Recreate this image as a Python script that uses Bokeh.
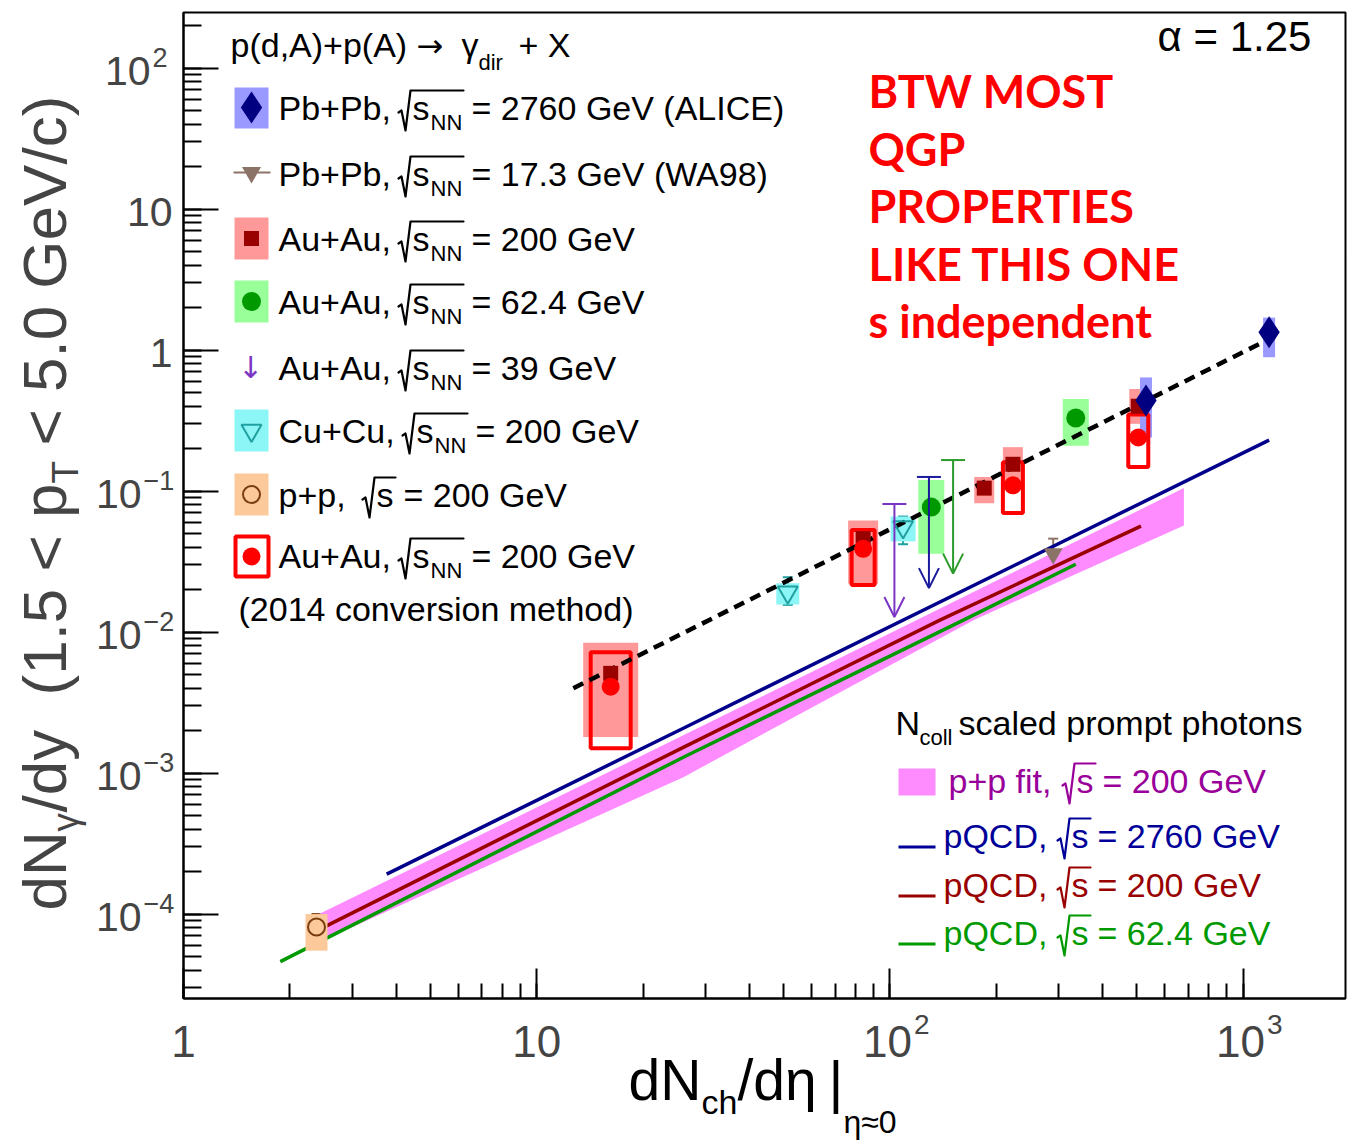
import math
from bokeh.plotting import figure
from bokeh.models import (Range1d, Label, BoxAnnotation, PolyAnnotation, Whisker, TeeHead,
                          Arrow, OpenHead, ColumnDataSource, LogTicker, CustomJSTickFormatter)
from bokeh.embed import file_html
from bokeh.resources import INLINE

# ------------------------------------------------------------------ data
# ALICE Pb+Pb, sqrt(sNN) = 2760 GeV
alice_x = [531, 1185]
alice_y = [0.44, 1.34]
alice_sys_lo = [0.24, 0.89]
alice_sys_hi = [0.64, 1.70]

# WA98 Pb+Pb, sqrt(sNN) = 17.3 GeV
wa98_x = [290]
wa98_y = [0.036]
wa98_err_lo = [0.028]
wa98_err_hi = [0.046]

# Au+Au, sqrt(sNN) = 200 GeV
auau200_x = [16.2, 84, 185, 223, 505]
auau200_y = [0.0051, 0.046, 0.105, 0.155, 0.40]
auau200_err_lo = [0.0040, 0.041, 0.097, 0.145, 0.37]
auau200_err_hi = [0.0069, 0.050, 0.113, 0.168, 0.43]
auau200_sys_lo = [0.0018, 0.022, 0.082, 0.115, 0.30]
auau200_sys_hi = [0.0084, 0.062, 0.126, 0.205, 0.53]

# Au+Au, sqrt(sNN) = 200 GeV, 2014 conversion method
conv_x = [16.2, 84, 223, 505]
conv_y = [0.0041, 0.039, 0.110, 0.24]
conv_err_lo = [0.0035, 0.034, 0.100, 0.22]
conv_err_hi = [0.0050, 0.044, 0.120, 0.26]
conv_sys_lo = [0.0015, 0.0216, 0.070, 0.148]
conv_sys_hi = [0.0072, 0.053, 0.160, 0.35]

# Au+Au, sqrt(sNN) = 62.4 GeV
auau62_x = [131, 336]
auau62_y = [0.077, 0.33]
auau62_err_lo = [0.0556, 0.219]
auau62_err_hi = [0.098, 0.435]
auau62_sys_lo = [0.036, 0.21]
auau62_sys_hi = [0.12, 0.45]

# Cu+Cu, sqrt(sNN) = 200 GeV
cucu_x = [51.4, 109]
cucu_y = [0.0192, 0.0556]
cucu_err_lo = [0.0156, 0.042]
cucu_err_hi = [0.0245, 0.066]
cucu_sys_lo = [0.0157, 0.044]
cucu_sys_hi = [0.0222, 0.066]

# p+p, sqrt(s) = 200 GeV
pp_x = [2.38]
pp_y = [8.1e-5]
pp_err_lo = [5.9e-5]
pp_err_hi = [1.0e-4]
pp_sys_lo = [5.5e-5]
pp_sys_hi = [1.0e-4]

# upper limits (arrow from limit down)
ul39_x = [103]
ul39_top = [0.081]
ul39_bottom = [0.0128]
ul_navy_x = [129]
ul_navy_top = [0.126]
ul_navy_bottom = [0.0205]
ul_green_x = [151]
ul_green_top = [0.166]
ul_green_bottom = [0.026]

# power-law fit, alpha = 1.25
fit_x = [12.7, 1280]
fit_y = [0.0040, 1.32]

# Ncoll-scaled p+p fit band
band_x = [2.38, 26.1, 173, 680]
band_hi = [9.8e-5, 1.86e-3, 0.0193, 0.105]
band_lo = [6.2e-5, 9.4e-4, 0.0122, 0.057]

# Ncoll-scaled pQCD
qcd2760_x = [3.76, 26.1, 1185]
qcd2760_y = [1.92e-4, 2.09e-3, 0.23]
qcd200_x = [2.38, 26.1, 139, 514]
qcd200_y = [7.6e-5, 1.53e-3, 0.0122, 0.0565]
qcd62_x = [1.88, 26.1, 162, 336]
qcd62_y = [4.6e-5, 1.3e-3, 0.0122, 0.0303]

# axis tick labels: (value, base, exponent)
x_tick_labels = [(1, "1", ""), (10, "10", ""), (100, "10", "2"), (1000, "10", "3")]
y_tick_labels = [(100, "10", "2"), (10, "10", ""), (1, "1", ""), (0.1, "10", "\u22121"),
                 (0.01, "10", "\u22122"), (0.001, "10", "\u22123"), (1e-4, "10", "\u22124")]

# plotted window
X0, X1 = 1.0, 1950.0
Y0, Y1 = 2.52e-5, 248.0

# ------------------------------------------------------------------ page geometry
W, H = 1349, 1144
FL, FR, FT, FB = 183, 1345, 12, 998      # plot box on the page
DX = (FR - FL) / math.log10(X1 / X0)     # pixels per decade
DY = (FB - FT) / math.log10(Y1 / Y0)
FONT = "Liberation Sans"
MID = 0.36                               # cap centre above the baseline, in em


def xd(px):
    return X0 * 10 ** ((px - FL) / DX)


def yd(py):
    return Y0 * 10 ** ((FB - py) / DY)


# the frame spans the whole page so that text outside the box is not clipped
p = figure(width=W, height=H, x_axis_type="log", y_axis_type="log",
           x_range=Range1d(xd(0), xd(W)), y_range=Range1d(yd(H), yd(0)),
           output_backend="svg", toolbar_location=None,
           min_border=0, min_border_left=0, min_border_right=0,
           min_border_top=0, min_border_bottom=0)
p.title.visible = False
p.xgrid.visible = False
p.ygrid.visible = False
p.background_fill_color = "white"
p.border_fill_color = "white"
p.outline_line_color = None

blank = CustomJSTickFormatter(code="return ''")
for ax, tin, tmin, loc, bnd in ((p.xaxis[0], 30, 15, Y0, (X0, X1)),
                                (p.yaxis[0], 35, 18, X0, (Y0, Y1))):
    ax.fixed_location = loc
    ax.bounds = bnd
    ax.ticker = LogTicker(num_minor_ticks=10)
    ax.formatter = blank
    ax.axis_line_width = 2
    ax.major_tick_in = tin
    ax.major_tick_out = 0
    ax.minor_tick_in = tmin
    ax.minor_tick_out = 0
    ax.major_tick_line_width = 2
    ax.minor_tick_line_width = 2

# box around the plotted window
p.add_layout(BoxAnnotation(left=X0, right=X1, bottom=Y0, top=Y1, fill_alpha=0,
                           line_color="black", line_width=2, line_alpha=1))


def sys_boxes(xs, lo, hi, width_px, **kw):
    src = ColumnDataSource(dict(x=xs, y=[(a + b) / 2 for a, b in zip(lo, hi)],
                                h=[b - a for a, b in zip(lo, hi)], w=width_px))
    p.rect("x", "y", width="w", height="h", width_units="screen", height_units="data",
           source=src, **kw)


def errbars(xs, lo, hi, color, head=10):
    src = ColumnDataSource(dict(x=xs, lo=lo, hi=hi))
    p.add_layout(Whisker(source=src, base="x", lower="lo", upper="hi", dimension="height",
                         line_color=color, line_width=2,
                         lower_head=TeeHead(size=head, line_color=color, line_width=2),
                         upper_head=TeeHead(size=head, line_color=color, line_width=2)))


def upper_limit(xs, top, bottom, color):
    src = ColumnDataSource(dict(x=xs, top=top, bottom=bottom))
    p.add_layout(Arrow(source=src, x_start="x", y_start="top", x_end="x", y_end="bottom",
                       line_color=color, line_width=2,
                       end=OpenHead(size=20, line_color=color, line_width=2)))
    p.scatter("x", "top", source=src, marker="dash", size=24, line_color=color, line_width=2)


# prompt-photon references
p.varea(x=band_x, y1=band_lo, y2=band_hi, fill_color="#ff8cff", fill_alpha=1)
p.line(qcd2760_x, qcd2760_y, line_color="#00008b", line_width=3.5)
p.line(qcd200_x, qcd200_y, line_color="#990000", line_width=3.5)
p.line(qcd62_x, qcd62_y, line_color="#009900", line_width=3.5)

# systematic uncertainty boxes
sys_boxes(pp_x, pp_sys_lo, pp_sys_hi, [22], fill_color="#fcc99a", line_alpha=0)
sys_boxes(cucu_x, cucu_sys_lo, cucu_sys_hi, [23, 25], fill_color="#8cf5f5", line_alpha=0)
sys_boxes(auau62_x, auau62_sys_lo, auau62_sys_hi, [26, 26], fill_color="#99ff99", line_alpha=0)
sys_boxes(auau200_x, auau200_sys_lo, auau200_sys_hi, [55, 30, 20, 20, 18],
          fill_color="#ff9999", line_alpha=0)
sys_boxes(alice_x, alice_sys_lo, alice_sys_hi, [12, 12], fill_color="#9999ff", line_alpha=0)
sys_boxes(conv_x, conv_sys_lo, conv_sys_hi, [40, 23, 20, 20], fill_alpha=0,
          line_color="#ff0000", line_width=4)

# upper limits
upper_limit(ul39_x, ul39_top, ul39_bottom, "#7b35c4")
upper_limit(ul_navy_x, ul_navy_top, ul_navy_bottom, "#1a1a9c")
upper_limit(ul_green_x, ul_green_top, ul_green_bottom, "#2a9a2a")

# statistical error bars
errbars(pp_x, pp_err_lo, pp_err_hi, "#7a3d0f")
errbars(cucu_x, cucu_err_lo, cucu_err_hi, "#20a0a0")
errbars(auau62_x, auau62_err_lo, auau62_err_hi, "#009900")
errbars(auau200_x, auau200_err_lo, auau200_err_hi, "#990000")
errbars(conv_x, conv_err_lo, conv_err_hi, "#cc0000")
errbars(wa98_x, wa98_err_lo, wa98_err_hi, "#8c7367")

# power-law fit
p.line(fit_x, fit_y, line_color="black", line_width=4.5, line_dash="11 7")

# data points
STY = dict(
    pp=dict(marker="circle", size=17, fill_alpha=0, line_color="#7a3d0f", line_width=2),
    cucu=dict(marker="inverted_triangle", size=20, fill_alpha=0, line_color="#20a0a0",
              line_width=2),
    auau62=dict(marker="circle", size=19, fill_color="#009900", line_alpha=0),
    auau200=dict(marker="square", size=15, fill_color="#990000", line_alpha=0),
    conv=dict(marker="circle", size=18, fill_color="#ff0000", line_alpha=0),
    wa98=dict(marker="inverted_triangle", size=19, fill_color="#8c7367", line_alpha=0),
    alice=dict(marker="diamond", size=32, fill_color="#000080", line_alpha=0),
)
p.scatter(pp_x, pp_y, **STY["pp"])
p.scatter(cucu_x, cucu_y, **STY["cucu"])
p.scatter(auau62_x, auau62_y, **STY["auau62"])
p.scatter(auau200_x, auau200_y, **STY["auau200"])
p.scatter(conv_x, conv_y, **STY["conv"])
p.scatter(wa98_x, wa98_y, **STY["wa98"])
p.scatter(alice_x, alice_y, **STY["alice"])


# ------------------------------------------------------------------ text helpers
def put(text, cx, base, size, color="black", font=FONT, style="normal", align="left"):
    """text whose baseline sits at page row `base`"""
    p.add_layout(Label(x=cx, y=H - (base - MID * size), x_units="screen", y_units="screen",
                       text=text, text_font=font, text_font_size=f"{size}px",
                       text_color=color, text_font_style=style, text_align=align,
                       text_baseline="middle"))


def put_up(text, base_x, y_start, size):
    """text reading bottom-to-top, baseline on page column `base_x`"""
    p.add_layout(Label(x=base_x - MID * size, y=H - y_start, x_units="screen",
                       y_units="screen", text=text, text_font=FONT,
                       text_font_size=f"{size}px", text_align="left",
                       text_baseline="middle", angle=math.pi / 2))


def stroke_px(points, color, width):
    """open polyline in page pixels (path traced forward and back)"""
    pts = list(points) + list(reversed(points[:-1]))
    p.add_layout(PolyAnnotation(xs=[a for a, _ in pts], ys=[H - b for _, b in pts],
                                xs_units="screen", ys_units="screen", fill_alpha=0,
                                line_color=color, line_alpha=1, line_width=width,
                                line_join="round"))


def key_box(x0, x1, y0, y1, **kw):
    p.quad(left=[xd(x0)], right=[xd(x1)], top=[yd(y0)], bottom=[yd(y1)], **kw)


def sqrt_s(x, base, size, color, nn=True):
    """radical with overline over 's' and an optional NN subscript"""
    sx = x + 14
    put("s", sx, base, size, color)
    end = sx + 18
    if nn:
        put("NN", end, base + 10, int(size * 0.66), color)
        end += 32
    stroke_px([(x, base - 8), (x + 3, base - 10), (x + 7, base + 10), (x + 12, base - 30),
               (end + 1, base - 30)], color, 2.2)
    return end


# axis tick labels
for v, b, e in x_tick_labels:
    if e:
        p.add_layout(Label(x=v, y=H - 1056, x_units="data", y_units="screen", text=b,
                           x_offset=22, text_align="right", text_font=FONT,
                           text_font_size="44px"))
        p.add_layout(Label(x=v, y=H - 1033, x_units="data", y_units="screen", text=e,
                           x_offset=24, text_align="left", text_font=FONT,
                           text_font_size="28px"))
    else:
        p.add_layout(Label(x=v, y=H - 1056, x_units="data", y_units="screen", text=b,
                           text_align="center", text_font=FONT, text_font_size="44px"))

for v, b, e in y_tick_labels:
    if e:
        right = 150 if not e.startswith("\u2212") else 141
        p.add_layout(Label(x=right, y=v, x_units="screen", y_units="data", text=b,
                           y_offset=-3, text_align="right", text_baseline="middle",
                           text_font=FONT, text_font_size="41px"))
        p.add_layout(Label(x=right + 2, y=v, x_units="screen", y_units="data", text=e,
                           y_offset=11, text_align="left", text_baseline="middle",
                           text_font=FONT, text_font_size="27px"))
    else:
        p.add_layout(Label(x=172, y=v, x_units="screen", y_units="data", text=b,
                           y_offset=-3, text_align="right", text_baseline="middle",
                           text_font=FONT, text_font_size="41px"))

# axis titles
put("dN", 628, 1100, 57)
put("ch", 701, 1114, 34)
put("/d\u03b7", 737, 1100, 57)
put("|", 828, 1102, 57)
put("\u03b7\u22480", 843, 1133, 32)

put_up("dN", 66, 910, 62)
put_up("\u03b3", 78, 831, 37)
put_up("/dy", 66, 812, 62)
put_up("(1.5 < p", 66, 695, 62)
put_up("T", 78, 483, 37)
put_up("< 5.0 GeV/c)", 66, 445, 62)

# left legend
put("p(d,A)+p(A)", 230, 57, 34)
put("\u2192", 416, 57, 32, font="DejaVu Sans")
put("\u03b3", 461, 57, 34)
put("dir", 478, 70, 22)
put("+ X", 518, 57, 34)

LS = 34
rows = [
    (107, "Pb+Pb,", 112, "= 2760 GeV (ALICE)", True),
    (173, "Pb+Pb,", 112, "= 17.3 GeV (WA98)", True),
    (238, "Au+Au,", 112, "= 200 GeV", True),
    (301, "Au+Au,", 112, "= 62.4 GeV", True),
    (367, "Au+Au,", 112, "= 39 GeV", True),
    (430, "Cu+Cu,", 116, "= 200 GeV", True),
    (494, "p+p,", 76, "= 200 GeV", False),
    (555, "Au+Au,", 112, "= 200 GeV", True),
]
for cy, pre, wpre, rest, nn in rows:
    base = cy + 13
    put(pre, 278, base, LS)
    end = sqrt_s(278 + wpre + 8, base, LS, "black", nn)
    put(rest, end + 9, base, LS)
put("(2014 conversion method)", 238, 621, LS)

# legend keys, drawn with the same markers as the data
key_box(234, 268, 87, 128, fill_color="#9999ff", line_alpha=0)
key_box(233, 270, 171, 173, fill_color="#8c7367", line_alpha=0)
key_box(234, 268, 217, 259, fill_color="#ff9999", line_alpha=0)
key_box(234, 268, 280, 322, fill_color="#99ff99", line_alpha=0)
key_box(234, 268, 409, 451, fill_color="#8cf5f5", line_alpha=0)
key_box(234, 268, 473, 515, fill_color="#fcc99a", line_alpha=0)
key_box(235, 268, 536, 576, fill_alpha=0, line_color="#ff0000", line_width=4)
for key, py in (("alice", 107), ("wa98", 172), ("auau200", 238), ("auau62", 301),
                ("cucu", 430), ("pp", 494), ("conv", 556)):
    p.scatter([xd(251)], [yd(py)], **STY[key])
put("\u2193", 250, 378, 30, "#7b35c4", font="DejaVu Sans", align="center")

# right legend
put("N", 895, 735, LS)
put("coll", 919, 745, 22)
put("scaled prompt photons", 958, 735, LS)

key_box(898, 935, 768, 795, fill_color="#ff8cff", line_alpha=0)
put("p+p fit,", 948, 793, LS, "#990099")
e = sqrt_s(1062, 793, LS, "#990099", nn=False)
put("= 200 GeV", e + 8, 793, LS, "#990099")

for cy, txt, col in ((848, "= 2760 GeV", "#000099"), (897, "= 200 GeV", "#990000"),
                     (945, "= 62.4 GeV", "#009900")):
    key_box(898, 935, cy - 3, cy, fill_color=col, line_alpha=0)
    put("pQCD,", 943, cy, LS, col)
    e = sqrt_s(1057, cy, LS, col, nn=False)
    put(txt, e + 8, cy, LS, col)

# fit exponent and remark
put("\u03b1 = 1.25", 1157, 51, 42)
for i, line in enumerate(["BTW MOST", "QGP", "PROPERTIES", "LIKE THIS ONE", "s independent"]):
    put(line, 868, 107 + 57.5 * i, 45, "#ff0000", font="Lato", style="bold")

open("out.html", "w").write(file_html(p, INLINE))
